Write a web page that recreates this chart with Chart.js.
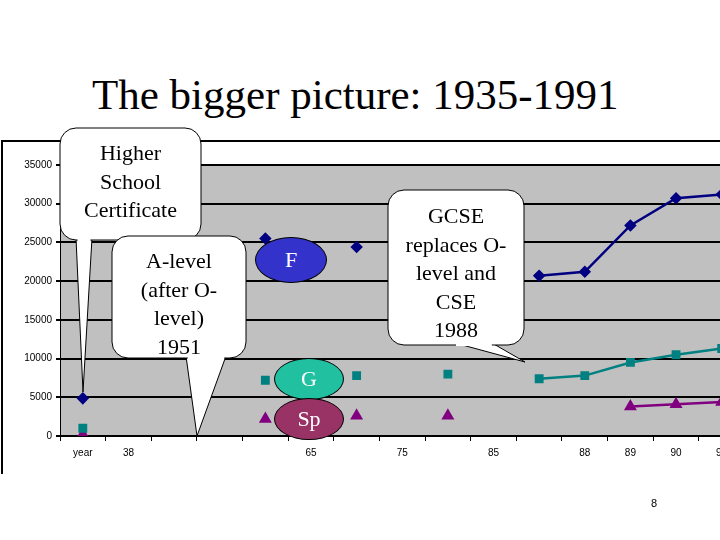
<!DOCTYPE html>
<html><head><meta charset="utf-8">
<script src="https://cdn.jsdelivr.net/npm/chart.js@4"></script>
<style>
body{margin:0;width:720px;height:540px;overflow:hidden;background:#fff;position:relative;font-family:"Liberation Serif",serif}
#wrap{position:absolute;left:0;top:142px;width:752px;height:330px}
#frame{position:absolute;left:1px;top:140px;width:760px;height:332px;border-top:2px solid #000;border-left:2px solid #000}
#title{position:absolute;left:92px;top:70px;font-size:43px;white-space:nowrap}
.t{position:absolute;text-align:center;font-size:22px;line-height:28.5px}
.e{position:absolute;color:#fff;font-size:22px;text-align:center;border:1px solid #000;border-radius:50%}
#pg{position:absolute;left:651px;top:497px;font-family:"Liberation Sans";font-size:11px}
svg{position:absolute;left:0;top:0}
</style></head><body>
<div id="title">The bigger picture: 1935-1991</div>
<div id="frame"></div>
<div id="wrap"><canvas id="c"></canvas></div>
<svg width="720" height="540">
<g fill="#fff" stroke="#000" stroke-width="1">
<polygon points="76,238 92,238 83,392"/>
<rect x="60" y="128" width="141" height="112" rx="16"/>
<polygon points="186,356 226,356 197,436"/>
<rect x="112" y="236" width="134" height="122" rx="16"/>
<polygon points="455,343 492,343 525,362"/>
<rect x="388" y="190" width="136" height="155" rx="16"/>
</g>
<g fill="#fff">
<polygon points="77,236 91,236 90,242 78,242"/>
<polygon points="187,352 225,352 224,359 188,359"/>
<polygon points="456,340 491,340 492,346 456,346"/>
</g>
</svg>
<div class="t" style="left:60px;width:141px;top:139px">Higher<br>School<br>Certificate</div>
<div class="t" style="left:112px;width:134px;top:247px">A-level<br>(after O-<br>level)<br>1951</div>
<div class="t" style="left:388px;width:136px;top:202px">GCSE<br>replaces O-<br>level and<br>CSE<br>1988</div>
<div class="e" style="left:255px;top:237px;width:70px;height:44px;line-height:44px;background:#3333cc">F</div>
<div class="e" style="left:274px;top:358px;width:68px;height:40px;line-height:40px;background:#20c0a0">G</div>
<div class="e" style="left:274px;top:398px;width:68px;height:40px;line-height:40px;background:#993366">Sp</div>
<div id="pg">8</div>
<script>
const categories=['year','38','','','','65','','75','','85','','88','89','90','91'];
const seriesF=[4861,null,null,null,25500,null,24400,null,null,null,20700,21200,27200,30700,31200];
const seriesG=[1000,null,null,null,7200,null,7800,null,8000,null,7400,7800,9500,10500,11300];
const seriesSp=[200,null,null,null,2200,null,2600,null,2600,null,null,null,3800,4100,4400];
const yTicks=[0,5000,10000,15000,20000,25000,30000,35000];
const bg={id:'bg',beforeDraw(c){const a=c.chartArea,x=c.ctx;x.save();x.fillStyle='#c0c0c0';x.fillRect(a.left,a.top,a.right-a.left,a.bottom-a.top);x.restore();}};
const ds=(l,d,col,ps,r)=>({label:l,data:d,borderColor:col,backgroundColor:col,borderWidth:2.5,pointStyle:ps,pointRadius:r,spanGaps:false});
new Chart(document.getElementById('c'),{type:'line',
data:{labels:categories,datasets:[ds('F',seriesF,'#000080','rectRot',4.5),ds('G',seriesG,'#008080','rect',4.5),ds('Sp',seriesSp,'#800080','triangle',5)]},
options:{responsive:true,maintainAspectRatio:false,animation:false,
layout:{padding:{left:2,top:23,right:0,bottom:0}},
plugins:{legend:{display:false},tooltip:{enabled:false}},
scales:{
x:{offset:true,grid:{offset:true,drawOnChartArea:false,drawTicks:true,tickLength:5,color:'#000'},border:{color:'#000',width:2},
ticks:{autoSkip:false,maxRotation:0,color:'#000',font:{family:'Liberation Sans',size:10},padding:6},afterFit(s){s.height=36;}},
y:{min:0,max:35000,afterBuildTicks(s){s.ticks=yTicks.map(v=>({value:v}));},
grid:{color:'#000',lineWidth:2,drawTicks:true,tickLength:4},border:{color:'#000',width:1},
ticks:{color:'#000',font:{family:'Liberation Sans',size:10},padding:4,callback:v=>String(v)},afterFit(s){s.width=58;}}}},
plugins:[bg]});
</script>
</body></html>
